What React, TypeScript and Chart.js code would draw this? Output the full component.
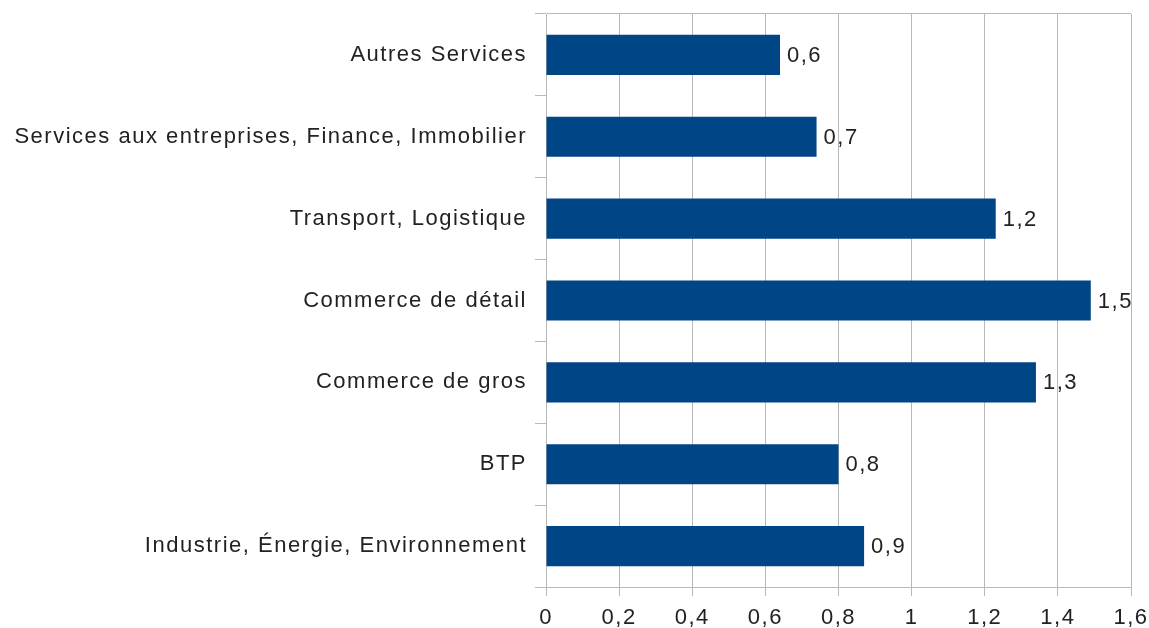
import React, { useEffect, useRef } from "react";
import { Chart, registerables } from "chart.js";

Chart.register(...registerables);

const categories = [
  "Autres Services",
  "Services aux entreprises, Finance, Immobilier",
  "Transport, Logistique",
  "Commerce de détail",
  "Commerce de gros",
  "BTP",
  "Industrie, Énergie, Environnement",
];
const values = [0.64, 0.74, 1.23, 1.49, 1.34, 0.8, 0.87];
const xTicks = [0, 0.2, 0.4, 0.6, 0.8, 1, 1.2, 1.4, 1.6];

const BAR_COLOR = "#004586";
const GRID = "#b8b8b8";
const TEXT = "#222222";
const FONT_FAMILY = "'Liberation Sans', Arial, sans-serif";
const FONT_SIZE = 22;
const SPACING = "1.5px";

const fmt = (v: number, digits: number) =>
  v.toFixed(digits).replace(".", ",");

const spacingPlugin = {
  id: "letterSpacing",
  beforeUpdate(chart: any) {
    chart.ctx.letterSpacing = SPACING;
  },
  beforeDraw(chart: any) {
    chart.ctx.letterSpacing = SPACING;
  },
};

const valueLabels = {
  id: "valueLabels",
  afterDatasetsDraw(chart: any) {
    const ctx = chart.ctx;
    const meta = chart.getDatasetMeta(0);
    ctx.save();
    ctx.letterSpacing = SPACING;
    ctx.font = `${FONT_SIZE}px ${FONT_FAMILY}`;
    ctx.fillStyle = TEXT;
    ctx.textAlign = "left";
    ctx.textBaseline = "middle";
    meta.data.forEach((bar: any, i: number) => {
      ctx.fillText(fmt(values[i], 1), bar.x + 7, bar.y + 1);
    });
    ctx.restore();
  },
};

export default function App() {
  const ref = useRef<HTMLCanvasElement | null>(null);

  useEffect(() => {
    if (!ref.current) return;
    const chart = new Chart(ref.current, {
      type: "bar",
      data: {
        labels: categories,
        datasets: [
          {
            data: values,
            backgroundColor: BAR_COLOR,
            borderWidth: 0,
            categoryPercentage: 1,
            barPercentage: 0.49,
          },
        ],
      },
      options: {
        indexAxis: "y",
        responsive: false,
        animation: false,
        layout: { padding: { top: 14, right: 18, left: 0, bottom: 0 } },
        plugins: {
          legend: { display: false },
          tooltip: { enabled: false },
        },
        scales: {
          x: {
            type: "linear",
            min: 0,
            max: 1.6,
            afterBuildTicks: (scale: any) => {
              scale.ticks = xTicks.map((v) => ({ value: v }));
            },
            afterFit: (scale: any) => {
              scale.height = 41;
              scale.paddingRight = 0;
              scale.paddingLeft = 0;
            },
            grid: {
              color: GRID,
              lineWidth: 1,
              tickLength: 9,
              tickColor: GRID,
              drawTicks: true,
            },
            border: { color: GRID, width: 1 },
            ticks: {
              padding: 9,
              color: TEXT,
              font: { family: FONT_FAMILY, size: FONT_SIZE },
              callback: (v: any) => {
                const n = Number(v);
                return Number.isInteger(n) ? String(n) : fmt(n, 1);
              },
              maxRotation: 0,
              autoSkip: false,
            },
          },
          y: {
            type: "category",
            afterFit: (scale: any) => {
              scale.width = 546;
              scale.paddingTop = 0;
              scale.paddingBottom = 0;
            },
            grid: {
              offset: true,
              color: (ctx: any) => (ctx.index === 0 ? GRID : "rgba(0,0,0,0)"),
              tickColor: GRID,
              tickLength: 11,
              lineWidth: 1,
            },
            border: { color: GRID, width: 1 },
            ticks: {
              padding: 8,
              color: TEXT,
              font: { family: FONT_FAMILY, size: FONT_SIZE },
              autoSkip: false,
            },
          },
        },
      },
      plugins: [spacingPlugin, valueLabels],
    });
    return () => chart.destroy();
  }, []);

  return (
    <div style={{ position: "fixed", left: 0, top: 0, width: 1149, height: 628, background: "#fff" }}>
      <canvas ref={ref} width={1149} height={628} />
    </div>
  );
}
